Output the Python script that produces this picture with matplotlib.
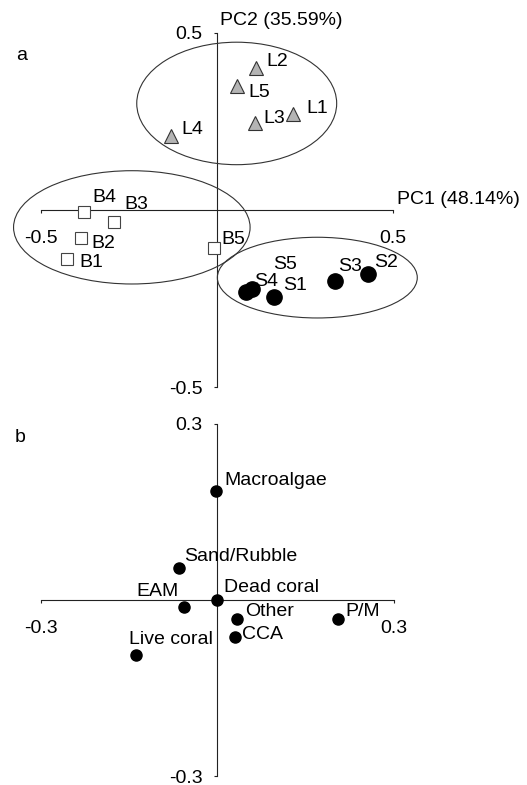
import matplotlib
matplotlib.use("Agg")
import matplotlib.pyplot as plt
from matplotlib.patches import Ellipse

plt.rcParams["font.family"] = ["Liberation Sans", "DejaVu Sans"]
plt.rcParams["font.size"] = 14

# --- panel a: site scores ---
L_NAMES = ["L1", "L2", "L3", "L4", "L5"]
L_PC1 = [0.217, 0.110, 0.108, -0.131, 0.058]
L_PC2 = [0.271, 0.400, 0.246, 0.210, 0.349]

B_NAMES = ["B1", "B2", "B3", "B4", "B5"]
B_PC1 = [-0.425, -0.386, -0.292, -0.377, -0.009]
B_PC2 = [-0.138, -0.079, -0.035, -0.007, -0.108]

S_NAMES = ["S1", "S2", "S3", "S4", "S5"]
S_PC1 = [0.162, 0.428, 0.336, 0.082, 0.099]
S_PC2 = [-0.247, -0.181, -0.200, -0.231, -0.223]

# group ellipses: centre x, centre y, width, height
L_ELLIPSE = [0.056, 0.301, 0.568, 0.346]
B_ELLIPSE = [-0.242, -0.049, 0.672, 0.320]
S_ELLIPSE = [0.285, -0.191, 0.568, 0.228]

A_TICKS = [-0.5, 0.5]

# --- panel b: benthic cover loadings ---
COVER_NAMES = ["Macroalgae", "Sand/Rubble", "Dead coral", "EAM",
               "Other", "CCA", "P/M", "Live coral"]
COVER_PC1 = [-0.002, -0.065, 0.0, -0.057, 0.034, 0.030, 0.205, -0.138]
COVER_PC2 = [0.185, 0.055, 0.0, -0.012, -0.033, -0.063, -0.033, -0.094]

B_TICKS_ = [-0.3, 0.3]

# label offsets in pixels (dx, dy up), text baseline
L_OFF = {"L1": (13, 1), "L2": (11, 2), "L3": (8, 0), "L4": (10, 2), "L5": (11, -11)}
B_OFF = {"B1": (12, -8), "B2": (10, -10), "B3": (10, 13), "B4": (8, 10), "B5": (8, 4)}
S_OFF = {"S1": (9, 7), "S2": (6, 7), "S3": (3, 10), "S4": (8, 6), "S5": (21, 20)}
COVER_OFF = {"Macroalgae": (8, 6, "left"), "Sand/Rubble": (5, 7, "left"),
             "Dead coral": (7, 8, "left"), "EAM": (-5, 11, "right"),
             "Other": (8, 3, "left"), "CCA": (7, -2, "left"),
             "P/M": (7, 3, "left"), "Live coral": (-7, 11, "left")}

AX_COL = "#222222"

W, H = 527, 785
fig = plt.figure(figsize=(W / 100, H / 100), dpi=100)


def cross_axes(ax, ticks):
    for s in ["top", "right"]:
        ax.spines[s].set_visible(False)
    for s in ["left", "bottom"]:
        ax.spines[s].set_position(("data", 0))
        ax.spines[s].set_bounds(ticks[0], ticks[-1])
        ax.spines[s].set_color(AX_COL)
        ax.spines[s].set_linewidth(0.8)
    ax.set_xticks(ticks)
    ax.set_yticks(ticks)
    ax.set_xticklabels([f"{t:g}" for t in ticks])
    ax.set_yticklabels([f"{t:g}" for t in ticks])
    ax.tick_params(axis="x", direction="out", length=2.5, width=0.8, pad=12,
                   color=AX_COL, labelsize=14)
    ax.tick_params(axis="y", direction="out", length=2.5, width=0.8, pad=8,
                   color=AX_COL, labelsize=14)
    ax.patch.set_alpha(0)


def label(ax, name, x, y, off, ha="left"):
    ax.annotate(name, xy=(x, y), xytext=off[:2], textcoords="offset pixels",
                ha=ha, va="baseline", fontsize=14, zorder=6)


# panel a
axA = fig.add_axes([0, 1 - 400 / H, 1, 400 / H])
axA.set_xlim(-0.6165, 0.8807)
axA.set_ylim(-0.5367, 0.5932)
cross_axes(axA, A_TICKS)

for cx, cy, w, h in [L_ELLIPSE, B_ELLIPSE, S_ELLIPSE]:
    axA.add_patch(Ellipse((cx, cy), w, h, fill=False, ec="#333333", lw=0.8, zorder=3))

axA.plot(L_PC1, L_PC2, ls="none", marker="^", ms=10, mfc="#b4b4b4",
         mec="#333333", mew=0.8, zorder=5)
axA.plot(B_PC1, B_PC2, ls="none", marker="s", ms=9, mfc="white",
         mec="#444444", mew=0.8, zorder=5)
axA.plot(S_PC1, S_PC2, ls="none", marker="o", ms=11, mfc="black",
         mec="black", zorder=5)

for names, xs, ys, offs in [(L_NAMES, L_PC1, L_PC2, L_OFF),
                            (B_NAMES, B_PC1, B_PC2, B_OFF),
                            (S_NAMES, S_PC1, S_PC2, S_OFF)]:
    for n, x, y in zip(names, xs, ys):
        label(axA, n, x, y, offs[n])

axA.annotate("PC2 (35.59%)", xy=(0, A_TICKS[-1]), xytext=(3, 8),
             textcoords="offset pixels", ha="left", va="baseline", fontsize=14)
axA.annotate("PC1 (48.14%)", xy=(A_TICKS[-1], 0), xytext=(4, 6),
             textcoords="offset pixels", ha="left", va="baseline", fontsize=14)

# panel b
axB = fig.add_axes([0, 0, 1, 385 / H])
axB.set_xlim(-0.3697, 0.5265)
axB.set_ylim(-0.3153, 0.3409)
cross_axes(axB, B_TICKS_)

axB.plot(COVER_PC1, COVER_PC2, ls="none", marker="o", ms=8, mfc="black",
         mec="black", zorder=5)
for n, x, y in zip(COVER_NAMES, COVER_PC1, COVER_PC2):
    off = COVER_OFF[n]
    label(axB, n, x, y, off, ha=off[2])

fig.text(22 / W, 1 - 60 / H, "a", ha="center", va="baseline", fontsize=14)
fig.text(20 / W, 1 - 442 / H, "b", ha="center", va="baseline", fontsize=14)

fig.savefig("out.png", dpi=100)
